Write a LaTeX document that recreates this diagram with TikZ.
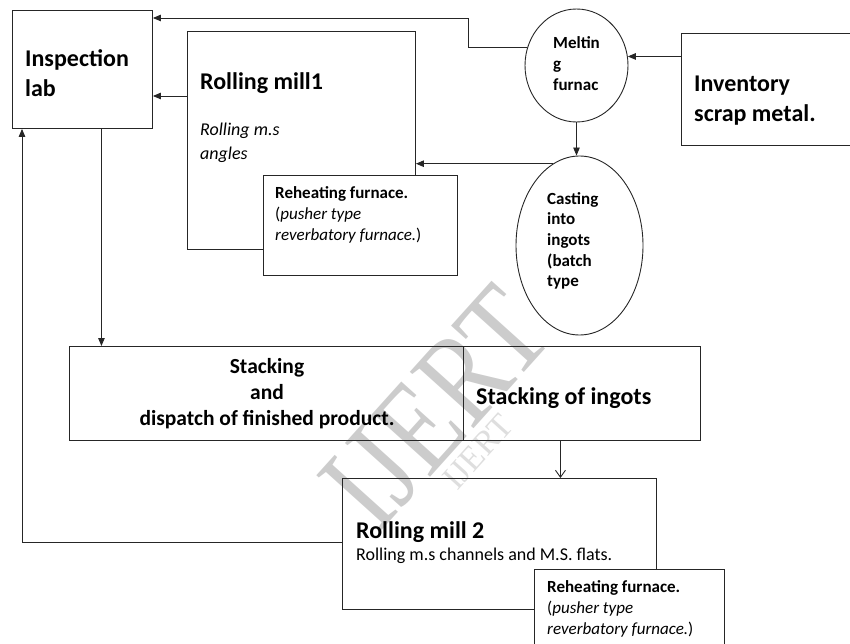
\documentclass[tikz,border=0pt]{standalone}
\usepackage{fontspec}
\setmainfont{Carlito}
\newfontfamily\wmfont{Liberation Serif}
\usepackage{tikz}
\usetikzlibrary{shapes,arrows.meta,positioning}

\begin{document}
\begin{tikzpicture}[
    x=1pt, y=-1pt,
    box/.style={rectangle, draw=black!85, line width=0.9pt, anchor=north west, inner sep=0pt},
    oval/.style={ellipse, draw=black!85, line width=0.9pt, inner sep=0pt},
    bigtext/.style={anchor=north west, inner sep=0pt, align=left, font=\bfseries\fontsize{24}{30}\selectfont},
    smalltext/.style={anchor=north west, inner sep=0pt, align=left, font=\bfseries\fontsize{17}{21}\selectfont},
    notetext/.style={anchor=north west, inner sep=0pt, align=left, font=\fontsize{17}{21}\selectfont},
    watermark/.style={inner sep=0pt, text=black!20, transform shape, font=\wmfont\fontsize{100}{100}\selectfont},
    arrow/.style={-{Triangle[length=8pt,width=6.5pt]}, line width=0.9pt, black!85},
    open arrow/.style={-{Straight Barb[length=7pt,width=10pt]}, line width=0.9pt, black!85}
]
    \clip (0,0) rectangle (850,644);

    \node[watermark, rotate=48, xscale=1.05, yscale=1.3] (wm) at (436,408) {IJERT};
    \node[watermark, rotate=48, text=black!13, font=\wmfont\fontsize{34}{34}\selectfont] (wmsmall) at (478,452) {IJERT};

    \node[box, minimum width=140pt, minimum height=118pt] (lab) at (12,10) {};
    \node[box, minimum width=228pt, minimum height=218pt] (mill1) at (187,31) {};
    \node[box, fill=white, minimum width=194pt, minimum height=100pt] (reheat1) at (263,175) {};
    \node[oval, minimum width=103pt, minimum height=113pt] (melt) at (576.5,65.5) {};
    \node[box, minimum width=190pt, minimum height=112pt] (inv) at (681,33) {};
    \node[oval, minimum width=127pt, minimum height=179pt] (cast) at (579.5,245.5) {};
    \node[box, minimum width=394pt, minimum height=94pt] (dispatch) at (69,346) {};
    \node[box, minimum width=237pt, minimum height=94pt] (ingots) at (463,346) {};
    \node[box, minimum width=314pt, minimum height=131pt] (mill2) at (342,478) {};
    \node[box, fill=white, minimum width=190pt, minimum height=100pt] (reheat2) at (534,569) {};

    \node[bigtext] (labtext) at (25,49) {Inspection\\lab};
    \node[bigtext] (mill1text) at (200,72) {Rolling mill1};
    \node[notetext, font=\itshape\fontsize{18}{23.5}\selectfont] (mill1note) at (200,123) {Rolling m.s\\angles};
    \node[notetext] (reheat1text) at (275,186) {\textbf{Reheating furnace.}\\(\textit{pusher type}\\\textit{reverbatory furnace.})};
    \node[smalltext] (melttext) at (553,36) {Meltin\\g\\furnac};
    \node[bigtext] (invtext) at (694,76) {Inventory\\scrap metal.};
    \node[smalltext, font=\bfseries\fontsize{17}{20.7}\selectfont] (casttext) at (547,192) {Casting\\into\\ingots\\(batch\\type};
    \node[anchor=north, inner sep=0pt, align=center, font=\bfseries\fontsize{21.5}{26}\selectfont] (dispatchtext) at (267,358) {Stacking\\and\\dispatch of finished product.};
    \node[bigtext] (ingotstext) at (476,387) {Stacking of ingots};
    \node[bigtext] (mill2text) at (356,521) {Rolling mill 2};
    \node[notetext, font=\fontsize{18}{24}\selectfont] (mill2note) at (356,548) {Rolling m.s channels and M.S. flats.};
    \node[notetext] (reheat2text) at (547,580) {\textbf{Reheating furnace.}\\(\textit{pusher type}\\\textit{reverbatory furnace.})};

    \draw[arrow] (melt.160) -- ++(-58.5,0) |- ([yshift=-8pt]lab.north east);
    \draw[arrow] (mill1.west |- 0,96) -- (lab.east |- 0,96);
    \draw[arrow] (cast.108) -- (mill1.east |- cast.108);
    \draw[arrow] (melt.south) -- (melt.south |- cast.north);
    \draw[arrow] (inv.west |- melt.10) -- (melt.10);
    \draw[arrow] ([xshift=19pt]lab.south) -- ([xshift=19pt]lab.south |- dispatch.north);
    \draw[arrow] ([yshift=2pt]mill2.west) -| ([xshift=10pt]lab.south west);
    \draw[open arrow] ([xshift=-21.5pt]ingots.south) -- ([xshift=-21.5pt]ingots.south |- mill2.north);
\end{tikzpicture}
\end{document}
